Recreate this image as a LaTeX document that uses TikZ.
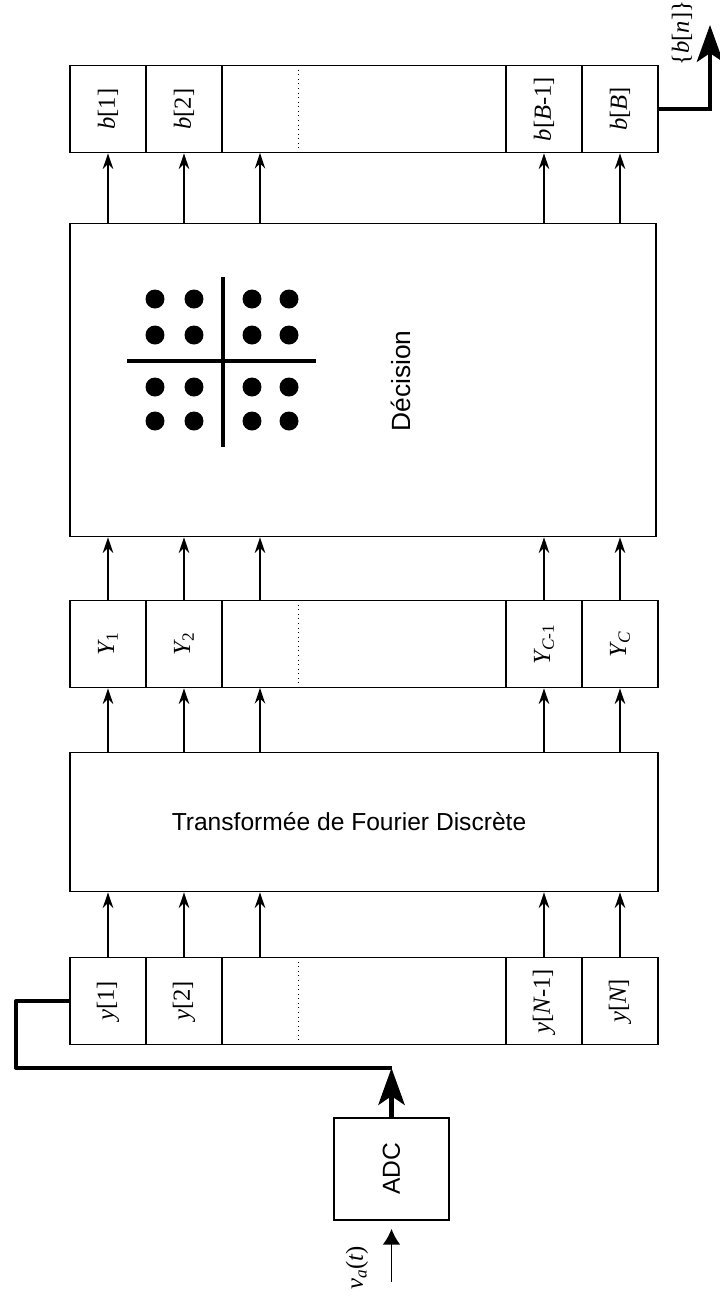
\documentclass[tikz,border=0pt]{standalone}
\usepackage{fontspec}
\setmainfont{Liberation Serif}
\setsansfont{Liberation Sans}
\usetikzlibrary{arrows.meta}

\newcommand{\vlab}[1]{\rotatebox{90}{#1}}

\begin{document}
\begin{tikzpicture}[x=0.02cm, y=-0.02cm,
    regframe/.style={draw, rectangle, minimum width=11.76cm, minimum height=1.74cm,
                     line width=0.9pt},
    cell/.style={draw, rectangle, minimum width=1.52cm, minimum height=1.74cm,
                 inner sep=0pt, line width=0.9pt, font=\fontsize{14}{16}\selectfont},
    gap/.style={rectangle, minimum width=1.52cm, minimum height=1.74cm, inner sep=0pt},
    block/.style={draw, rectangle, inner sep=0pt, line width=0.9pt,
                  font=\sffamily\fontsize{14}{16}\selectfont},
    flow/.style={-{Stealth[length=9pt, width=6pt]}, line width=0.8pt},
    bus/.style={line width=2.3pt},
    bigtip/.style={-{Stealth[length=21pt, width=15pt, inset=5pt]}}
]
    \useasboundingbox (0,0) rectangle (720,1303);

    % output register b[.]
    \node[regframe] (breg) at (364,109) {};
    \node[cell] (b1)  at (108,109) {\vlab{\itshape b\upshape[1]}};
    \node[cell] (b2)  at (184,109) {\vlab{\itshape b\upshape[2]}};
    \node[gap]  (b3)  at (260,109) {};
    \node[cell] (bB1) at (544,109) {\vlab{\itshape b\upshape[\itshape B\upshape-1]}};
    \node[cell] (bB)  at (620,109) {\vlab{\itshape b\upshape[\itshape B\upshape]}};

    % decision block with the constellation
    \node[block, minimum width=11.72cm, minimum height=6.26cm] (dec) at (363,380) {};
    \node[font=\sffamily\fontsize{15}{17}\selectfont] (declbl) at (401,381) {\vlab{Décision}};
    \draw[line width=2.3pt] (223,277) -- (223,447);
    \draw[line width=2.3pt] (127,361) -- (316,361);
    \foreach \cx in {155,194,252,289}
        \foreach \cy in {299,335,387,421}
            \fill (\cx,\cy) circle[radius=0.19cm];

    % register Y
    \node[regframe] (Yreg) at (364,644) {};
    \node[cell] (Y1)  at (108,644) {\vlab{\itshape Y\upshape\textsubscript{1}}};
    \node[cell] (Y2)  at (184,644) {\vlab{\itshape Y\upshape\textsubscript{2}}};
    \node[gap]  (Y3)  at (260,644) {};
    \node[cell] (YC1) at (544,644) {\vlab{\itshape Y\textsubscript{C\upshape-1}}};
    \node[cell] (YC)  at (620,644) {\vlab{\itshape Y\textsubscript{C}}};

    % DFT
    \node[block, minimum width=11.76cm, minimum height=2.78cm] (dft) at (364,822)
        {Transformée de Fourier Discrète\hspace*{0.6cm}};

    % register y
    \node[regframe] (yreg) at (364,1001) {};
    \node[cell] (y1)  at (108,1001) {\vlab{\itshape y\upshape[1]}};
    \node[cell] (y2)  at (184,1001) {\vlab{\itshape y\upshape[2]}};
    \node[gap]  (y3)  at (260,1001) {};
    \node[cell] (yN1) at (544,1001) {\vlab{\itshape y\upshape[\itshape N\upshape-1]}};
    \node[cell] (yN)  at (620,1001) {\vlab{\itshape y\upshape[\itshape N\upshape]}};

    % dotted ends of the third cells
    \foreach \g in {b3,Y3,y3}
        \draw[dotted, line width=0.6pt] (\g.north east) -- (\g.south east);

    % ADC
    \node[block, minimum width=2.3cm, minimum height=2.04cm] (adc) at (391.5,1169) {\vlab{ADC}};
    \coordinate (vin) at (adc.south |- 0,1282);
    \node (va) at (357,1268) {\vlab{\fontsize{14}{16}\selectfont\itshape v\textsubscript{a}\upshape(\itshape t\upshape)}};
    \draw[line width=1pt, -{Latex[length=9pt, width=10pt]}, shorten >=0.16cm] (vin) -- (adc.south);

    % sample bus into y[1]
    \coordinate (busl) at (16,1068);
    \coordinate (busr) at (adc.north |- busl);
    \draw[bus, line join=round] (y1.west) -| (busl) -- (busr);
    \draw[bus, bigtip] (adc.north) -- (busr);

    % bit stream out
    \coordinate (out) at (710,25);
    \draw[bus, bigtip] (bB.east) -| (out);
    \node (bn) at (682,33) {\vlab{\fontsize{14}{16}\selectfont\{\itshape b\upshape[\itshape n\upshape]\}}};

    % parallel connections
    \foreach \lo/\mi/\hi in {y1/Y1/b1, y2/Y2/b2, y3/Y3/b3, yN1/YC1/bB1, yN/YC/bB}{
        \draw[flow] (\lo.north) -- (\lo.north |- dft.south);
        \draw[flow] (\mi.south |- dft.north) -- (\mi.south);
        \draw[flow] (\mi.north) -- (\mi.north |- dec.south);
        \draw[flow] (\hi.south |- dec.north) -- (\hi.south);
    }
\end{tikzpicture}
\end{document}
